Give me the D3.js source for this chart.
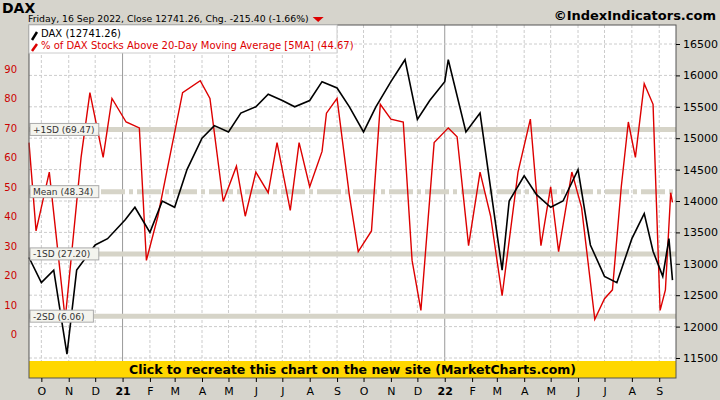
<!DOCTYPE html>
<html><head><meta charset="utf-8">
<script src="https://cdn.jsdelivr.net/npm/d3@7"></script>
<style>body{margin:0;background:#d6d4cc}text{font-family:"DejaVu Sans",sans-serif}</style>
</head><body><svg id="c" width="720" height="400"></svg>
<script>
const daxDates = ["2020-09-17","2020-10-01","2020-10-15","2020-10-30","2020-11-10","2020-12-01","2020-12-15","2021-01-04","2021-01-15","2021-02-01","2021-02-15","2021-03-01","2021-03-15","2021-04-01","2021-04-15","2021-05-01","2021-05-15","2021-06-01","2021-06-15","2021-07-01","2021-07-15","2021-08-01","2021-08-15","2021-09-01","2021-09-15","2021-10-01","2021-10-15","2021-11-01","2021-11-17","2021-12-01","2021-12-15","2022-01-01","2022-01-05","2022-01-25","2022-02-10","2022-03-07","2022-03-15","2022-04-01","2022-04-15","2022-05-01","2022-05-15","2022-06-01","2022-06-15","2022-07-01","2022-07-15","2022-08-01","2022-08-15","2022-08-25","2022-09-05","2022-09-12","2022-09-16"];
const daxValues = [13100,12700,12900,11560,12900,13300,13400,13700,13900,13500,14000,13900,14500,15000,15200,15100,15400,15500,15700,15600,15500,15600,15900,15800,15500,15100,15500,15900,16250,15300,15600,15900,16250,15100,15400,12900,14000,14400,14100,13900,14000,14500,13300,12800,12700,13400,13800,13200,12800,13400,12741];
const pctDates = ["2020-09-17","2020-09-25","2020-10-10","2020-10-28","2020-11-15","2020-11-25","2020-12-10","2020-12-20","2021-01-05","2021-01-20","2021-01-28","2021-02-10","2021-02-20","2021-03-10","2021-03-30","2021-04-10","2021-04-25","2021-05-10","2021-05-20","2021-06-01","2021-06-15","2021-06-25","2021-07-10","2021-07-20","2021-08-01","2021-08-15","2021-08-20","2021-09-01","2021-09-15","2021-09-25","2021-10-10","2021-10-20","2021-11-01","2021-11-15","2021-11-25","2021-12-05","2021-12-20","2022-01-05","2022-01-15","2022-01-28","2022-02-10","2022-02-22","2022-03-07","2022-03-25","2022-04-08","2022-04-20","2022-05-01","2022-05-10","2022-05-25","2022-06-05","2022-06-20","2022-07-01","2022-07-10","2022-07-20","2022-07-28","2022-08-05","2022-08-15","2022-08-25","2022-09-02","2022-09-08","2022-09-14","2022-09-16"];
const pctValues = [65,35,55,5,60,82,60,80,72,70,25,40,55,82,86,80,45,57,40,55,48,65,42,65,50,62,75,80,47,28,35,78,73,72,25,8,65,70,67,30,55,40,13,55,73,30,50,28,55,43,5,12,15,50,72,60,85,78,8,15,48,44.7];
const bands = [{v:69.47,l:"+1SD (69.47)"},{v:48.34,l:"Mean (48.34)",dash:true},{v:27.20,l:"-1SD (27.20)"},{v:6.06,l:"-2SD (6.06)"}];
const leftTicks = [0,10,20,30,40,50,60,70,80,90];
const rightTicks = [11500,12000,12500,13000,13500,14000,14500,15000,15500,16000,16500];

const svg = d3.select("#c");
const L=29,R=676,T=25,B=378;
const parse = d3.timeParse("%Y-%m-%d");
const x = d3.scaleTime().domain([parse("2020-09-17"),parse("2022-09-20")]).range([L,R]);
const yP = d3.scaleLinear().domain([0,90]).range([334,69]);
const yD = d3.scaleLinear().domain([11500,16500]).range([358,44]);

svg.append("rect").attr("x",L).attr("y",T).attr("width",R-L).attr("height",B-T).attr("fill","#fff");
// grid
const months = d3.timeMonth.range(parse("2020-10-01"),parse("2022-09-20"));
svg.selectAll(".vg").data(months).enter().append("line")
  .attr("x1",d=>x(d)).attr("x2",d=>x(d)).attr("y1",T).attr("y2",B)
  .attr("stroke",d=>d.getMonth()==0?"#999":"#ccc").attr("stroke-dasharray",d=>d.getMonth()==0?null:"3,2");
svg.selectAll(".hg").data(rightTicks).enter().append("line")
  .attr("x1",L).attr("x2",R).attr("y1",d=>yD(d)).attr("y2",d=>yD(d)).attr("stroke","#ccc").attr("stroke-dasharray","3,2");
// bands
bands.forEach(b=>{
  svg.append("line").attr("x1",L).attr("x2",R).attr("y1",yP(b.v)).attr("y2",yP(b.v))
    .attr("stroke","#d6d4c8").attr("stroke-width",5).attr("stroke-dasharray",b.dash?"24,4,4,4":null);
});
const line = (ys,dates)=>d3.line().x((d,i)=>x(parse(dates[i]))).y(d=>ys(d));
svg.append("path").datum(pctValues).attr("d",line(yP,pctDates)).attr("fill","none").attr("stroke","#d00").attr("stroke-width",1.4);
svg.append("path").datum(daxValues).attr("d",line(yD,daxDates)).attr("fill","none").attr("stroke","#000").attr("stroke-width",1.6);
bands.forEach(b=>{
  const g=svg.append("g").attr("transform",`translate(${L+1},${yP(b.v)})`);
  g.append("rect").attr("y",-6).attr("width",b.l.length*5.4+4).attr("height",12).attr("fill","#f4f4ee").attr("stroke","#aaa");
  g.append("text").attr("x",3).attr("y",3.5).attr("font-size",9).attr("fill","#333").text(b.l);
});
// banner
svg.append("rect").attr("x",L).attr("y",361).attr("width",R-L).attr("height",17).attr("fill","#ffd700");
svg.append("text").attr("x",(L+R)/2).attr("y",374).attr("text-anchor","middle").attr("font-size",12.5).attr("font-weight","bold").text("Click to recreate this chart on the new site (MarketCharts.com)");
svg.append("rect").attr("x",L).attr("y",T).attr("width",R-L).attr("height",B-T).attr("fill","none").attr("stroke","#555");
// axes
svg.selectAll(".lt").data(leftTicks).enter().append("text").attr("x",17).attr("y",d=>yP(d)+4)
  .attr("text-anchor","end").attr("font-size",10).attr("fill","#c00").text(d=>d);
const ra = svg.append("g").attr("transform",`translate(${R},0)`).call(d3.axisRight(yD).tickValues(rightTicks).tickSize(4).tickFormat(d3.format("d")));
ra.select(".domain").remove(); ra.selectAll("text").attr("font-size",11).attr("font-family","DejaVu Sans").attr("x",7);
const ba = svg.append("g").attr("transform",`translate(0,${B})`).call(d3.axisBottom(x).tickValues(months).tickSize(4)
  .tickFormat(d=>d.getMonth()==0?d3.timeFormat("%y")(d):"JFMAMJJASOND"[d.getMonth()]));
ba.select(".domain").remove(); ba.selectAll("text").attr("font-size",11).attr("font-family","DejaVu Sans")
  .attr("font-weight",d=>d.getMonth()==0?"bold":null).attr("dy","0.9em");
// header
svg.append("text").attr("x",2).attr("y",13).attr("font-size",14).attr("font-weight","bold").text("DAX");
const sub = svg.append("text").attr("x",28).attr("y",22).attr("font-size",9.3).text("Friday, 16 Sep 2022, Close 12741.26, Chg. -215.40 (-1.66%)");
const sx = 28 + sub.node().getComputedTextLength() + 4;
svg.append("path").attr("d",`M${sx},17 L${sx+11},17 L${sx+5.5},22 Z`).attr("fill","#d00");
svg.append("text").attr("x",716).attr("y",20).attr("text-anchor","end").attr("font-size",13).attr("font-weight","bold").text("©IndexIndicators.com");
const lg=svg.append("g");
lg.append("rect").attr("x",29).attr("y",25).attr("width",308).attr("height",28).attr("fill","#fff").attr("stroke","#ccc");
lg.append("path").attr("d","M32,40 L37,32").attr("stroke","#000").attr("stroke-width",2.5);
lg.append("text").attr("x",41).attr("y",37).attr("font-size",10).text("DAX (12741.26)");
lg.append("path").attr("d","M32,51 L37,44").attr("stroke","#d00").attr("stroke-width",2.5);
lg.append("text").attr("x",41).attr("y",49).attr("font-size",10).attr("fill","#d00").text("% of DAX Stocks Above 20-Day Moving Average [5MA] (44.67)");
</script></body></html>
